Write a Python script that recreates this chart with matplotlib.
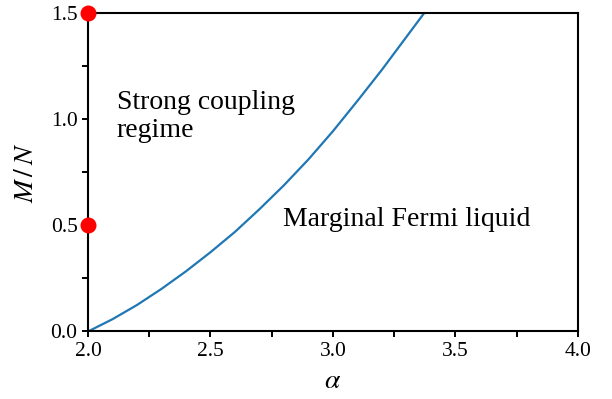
import numpy as np
import matplotlib
matplotlib.use("Agg")
import matplotlib.pyplot as plt
from matplotlib.ticker import MultipleLocator

plt.rcParams['font.family'] = ['Liberation Serif', 'DejaVu Serif']
plt.rcParams['mathtext.fontset'] = 'stix'

# phase boundary between the two regimes
alpha = [2.0, 2.1, 2.2, 2.3, 2.4, 2.5, 2.6, 2.7, 2.8, 2.9, 3.0, 3.1, 3.2, 3.3, 3.4]
m_over_n = [0.000, 0.058, 0.125, 0.201, 0.284, 0.374, 0.470, 0.577,
            0.690, 0.812, 0.945, 1.088, 1.235, 1.390, 1.545]

# special points on the alpha = 2 axis
dot_alpha = [2.0, 2.0]
dot_mn = [0.5, 1.5]

fig = plt.figure(figsize=(6.12, 3.99), dpi=100)
ax = fig.add_axes([0.1438, 0.1692, 0.8006, 0.797])

ax.plot(alpha, m_over_n, color='#1f77b4', lw=1.6)
ax.plot(dot_alpha, dot_mn, 'o', color='red', ms=10.5, clip_on=False, zorder=5)

ax.set_xlim(2.0, 4.0)
ax.set_ylim(0.0, 1.5)
ax.xaxis.set_major_locator(MultipleLocator(0.5))
ax.xaxis.set_minor_locator(MultipleLocator(0.25))
ax.yaxis.set_major_locator(MultipleLocator(0.5))
ax.yaxis.set_minor_locator(MultipleLocator(0.25))
ax.xaxis.set_major_formatter(plt.FormatStrFormatter('%.1f'))
ax.yaxis.set_major_formatter(plt.FormatStrFormatter('%.1f'))

for s in ax.spines.values():
    s.set_linewidth(1.5)
ax.tick_params(which='both', direction='out', length=4.5, width=1.4,
               top=False, right=False, labelsize=15.5, pad=3)

ax.set_xlabel(r'$\alpha$', fontsize=20, labelpad=6)
ax.set_ylabel(r'$M\,/\,N$', fontsize=20, labelpad=8)

ax.text(2.118, 1.14, 'Strong coupling\nregime', fontsize=20, va='top',
        ha='left', linespacing=1.15)
ax.text(2.797, 0.498, 'Marginal Fermi liquid', fontsize=20, va='baseline',
        ha='left')

fig.savefig('out.png', dpi=100)
